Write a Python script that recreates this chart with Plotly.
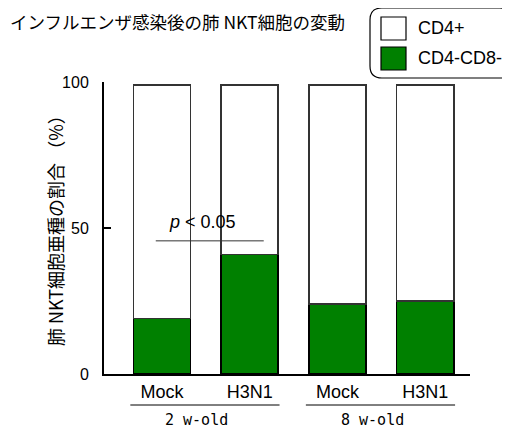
import plotly.graph_objects as go

# ---- data ----
bar_labels = ["Mock", "H3N1", "Mock", "H3N1"]
group_labels = ["2 w-old", "8 w-old"]
cd4neg_cd8neg = [19, 41, 24, 25]      # green (bottom)
cd4pos = [80, 58, 75, 74]             # white (top)
series_names = ["CD4+", "CD4-CD8-"]
y_ticks = [0, 50, 100]
p_text = "<i>p</i> < 0.05"

# ---- layout helpers ----
# The page body has an 8px margin, so the figure is offset by 8px on screen.
OFF = 8
SW, SH = 510, 429                       # screen size
W, H = SW - OFF, SH - OFF               # figure size
PL, PR, PT, PB = 104, 470, 82, 374      # plot area in screen pixels
L, R, T, B = PL - OFF, SW - PR, PT - OFF, SH - PB
PW, PH = PR - PL, PB - PT


def px(x):
    return (x - PL) / PW


def py(y):
    return (PB - y) / PH


xpos = list(range(len(bar_labels)))
GREEN = "#008000"
CJK = "Noto Sans CJK JP"
SANS = "Liberation Sans, Arial, sans-serif"

fig = go.Figure()
fig.add_trace(go.Bar(
    x=xpos, y=cd4neg_cd8neg, name=series_names[1], width=0.65,
    marker=dict(color=GREEN, line=dict(color="black", width=1.5)),
    showlegend=False,
))
fig.add_trace(go.Bar(
    x=xpos, y=cd4pos, name=series_names[0], width=0.65,
    marker=dict(color="white", line=dict(color="#333", width=1.5)),
    showlegend=False,
))

shapes = []
annotations = []

# group underline + labels
for gi, g in enumerate(group_labels):
    x0 = xpos[2 * gi] - 0.36
    x1 = xpos[2 * gi + 1] + 0.34
    shapes.append(dict(type="line", xref="x", yref="paper", x0=x0, x1=x1,
                       y0=py(405), y1=py(405), line=dict(color="black", width=1)))
    annotations.append(dict(xref="x", yref="paper", x=(xpos[2 * gi] + xpos[2 * gi + 1]) / 2,
                            xshift=-9, y=py(420), text=g, showarrow=False,
                            xanchor="center", yanchor="middle",
                            font=dict(family="DejaVu Sans Mono", size=15, color="black")))

# significance line + text
shapes.append(dict(type="line", xref="x", yref="y", x0=xpos[0] - 0.07, x1=xpos[1] + 0.16,
                   y0=45.6, y1=45.6, line=dict(color="#333", width=1)))
annotations.append(dict(xref="x", yref="y", x=(xpos[0] + xpos[1]) / 2 - 0.04, y=52,
                        text=p_text, showarrow=False, xanchor="center", yanchor="middle",
                        font=dict(family=SANS, size=18, color="black")))

# y-axis title
annotations.append(dict(xref="paper", yref="paper", x=px(55), y=py(226),
                        text="肺 NKT細胞亜種の割合 （%）", textangle=-90, showarrow=False,
                        xanchor="center", yanchor="middle",
                        font=dict(family=CJK, size=18, color="black")))

# manual legend (rounded box)
bx0, bx1, by0, by1, r = 370, 512, 8, 78, 12
rx, ry = r / PW, r / PH
X0, X1, Y0, Y1 = px(bx0), px(bx1), py(by1), py(by0)
path = (f"M{X0 + rx},{Y0} L{X1 - rx},{Y0} Q{X1},{Y0} {X1},{Y0 + ry} "
        f"L{X1},{Y1 - ry} Q{X1},{Y1} {X1 - rx},{Y1} "
        f"L{X0 + rx},{Y1} Q{X0},{Y1} {X0},{Y1 - ry} "
        f"L{X0},{Y0 + ry} Q{X0},{Y0} {X0 + rx},{Y0} Z")
shapes.append(dict(type="path", xref="paper", yref="paper", path=path,
                   line=dict(color="black", width=1.2), fillcolor="white"))
legend_items = [(series_names[0], "white", 17, 40, 28), (series_names[1], GREEN, 47, 70, 58)]
for name, col, sy0, sy1, ty in legend_items:
    shapes.append(dict(type="rect", xref="paper", yref="paper",
                       x0=px(381), x1=px(406), y0=py(sy1), y1=py(sy0),
                       fillcolor=col, line=dict(color="black", width=1.2)))
    annotations.append(dict(xref="paper", yref="paper", x=px(416), y=py(ty), text=name,
                            showarrow=False, xanchor="left", yanchor="middle",
                            font=dict(family=SANS, size=18, color="black")))

fig.update_layout(
    width=W, height=H,
    margin=dict(l=L, r=R, t=T, b=B, autoexpand=False),
    barmode="stack",
    plot_bgcolor="white", paper_bgcolor="white",
    title=dict(text="インフルエンザ感染後の肺 NKT細胞の変動", x=(10 - OFF) / W, xref="container",
               xanchor="left", y=1 - (23 - OFF) / H, yref="container", yanchor="middle",
               font=dict(family=CJK, size=17.5, color="black")),
    xaxis=dict(range=[-0.66, 3.51], tickvals=xpos, ticktext=bar_labels,
               showline=True, linecolor="black", linewidth=2, ticks="",
               showgrid=False, zeroline=False, automargin=False,
               tickfont=dict(family=SANS, size=18, color="black")),
    yaxis=dict(range=[0, 100], tickvals=y_ticks, showline=True, linecolor="black",
               linewidth=2, ticks="inside", ticklen=7, tickcolor="black", tickwidth=1.5,
               showgrid=False, zeroline=False, ticklabelstandoff=10, automargin=False,
               tickfont=dict(family=SANS, size=16, color="black")),
    shapes=shapes, annotations=annotations,
    font=dict(family=SANS),
)

fig.write_html("out.html")
